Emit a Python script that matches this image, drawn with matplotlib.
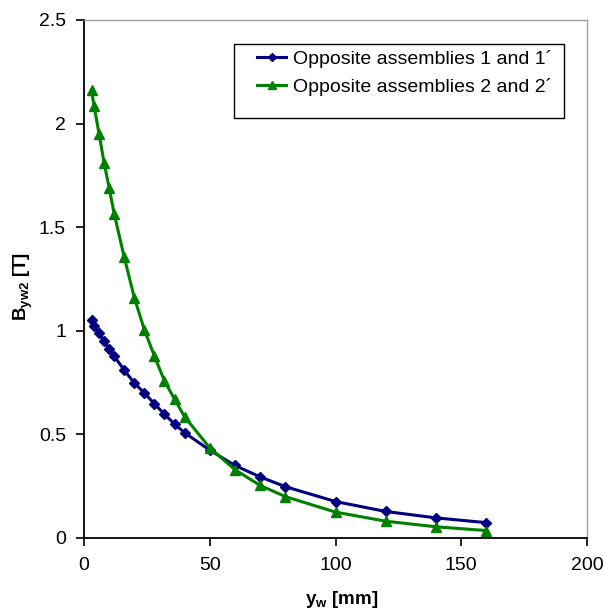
import matplotlib
matplotlib.use("Agg")
import matplotlib.pyplot as plt
from matplotlib.patches import Rectangle

plt.rcParams['font.family'] = ['Liberation Sans', 'DejaVu Sans']
plt.rcParams['mathtext.fontset'] = 'custom'
plt.rcParams['mathtext.rm'] = 'Liberation Sans:bold'
plt.rcParams['mathtext.it'] = 'Liberation Sans:bold'
plt.rcParams['mathtext.bf'] = 'Liberation Sans:bold'

# Data
x_blue = [3, 4, 6, 8, 10, 12, 16, 20, 24, 28, 32, 36, 40, 50, 60, 70, 80, 100, 120, 140, 160]
y_blue = [1.05, 1.025, 0.99, 0.95, 0.912, 0.878, 0.81, 0.748, 0.70, 0.648, 0.597, 0.55, 0.508,
          0.424, 0.35, 0.295, 0.248, 0.176, 0.128, 0.097, 0.074]
x_green = [3, 4, 6, 8, 10, 12, 16, 20, 24, 28, 32, 36, 40, 50, 60, 70, 80, 100, 120, 140, 160]
y_green = [2.16, 2.085, 1.95, 1.81, 1.69, 1.565, 1.355, 1.16, 1.005, 0.878, 0.758, 0.67, 0.585,
           0.435, 0.33, 0.254, 0.2, 0.125, 0.081, 0.054, 0.036]
label_blue = "Opposite assemblies 1 and 1\u00b4"
label_green = "Opposite assemblies 2 and 2\u00b4"
x_ticks = [0, 50, 100, 150, 200]
y_ticks = [0, 0.5, 1, 1.5, 2, 2.5]
y_tick_labels = ['0', '0.5', '1', '1.5', '2', '2.5']

W, H = 605, 612
fig = plt.figure(figsize=(W/100, H/100), dpi=100)
ax = fig.add_axes([84/W, 1-538/H, (587-84)/W, (538-20)/H])

ax.plot(x_blue, y_blue, color='#000080', lw=2.2, marker='D', ms=5, label=label_blue)
ax.plot(x_green, y_green, color='#008000', lw=2.2, marker='^', ms=7.5, label=label_green)

ax.set_xlim(0, 200)
ax.set_ylim(0, 2.5)
ax.set_xticks(x_ticks)
ax.set_yticks(y_ticks)
ax.set_yticklabels(y_tick_labels)
ax.tick_params(direction='out', length=6, width=1.2, labelsize=14, colors='black')
ax.tick_params(axis='y', pad=7)
ax.tick_params(axis='x', pad=8)

for s in ['left', 'bottom']:
    ax.spines[s].set_color('black')
    ax.spines[s].set_linewidth(1.3)
for s in ['top', 'right']:
    ax.spines[s].set_color('#a0a0a0')
    ax.spines[s].set_linewidth(1.0)

fig.text(342/W, 1-600/H, r'y$_{\mathrm{w}}$ [mm]', fontsize=13.5, fontweight='bold',
         ha='center', va='center')
fig.text(23/W, 1-286/H, r'B$_{\mathrm{yw2}}$ [T]', fontsize=13.5, fontweight='bold',
         ha='center', va='center', rotation=90)

box = Rectangle((234/W, 1-118/H), (564-234)/W, (118-44)/H, transform=fig.transFigure,
                facecolor='white', edgecolor='black', lw=1.0, zorder=4, clip_on=False)
ax.add_patch(box)
leg = ax.legend(loc='upper left', bbox_to_anchor=(257/W, 1-50/H), bbox_transform=fig.transFigure,
                fontsize=14, frameon=False,
                handlelength=1.5, handletextpad=0.36, borderpad=0.0, labelspacing=0.5, markerscale=0.8,
                borderaxespad=0)
leg.set_zorder(6)

fig.savefig('out.png', dpi=100)
